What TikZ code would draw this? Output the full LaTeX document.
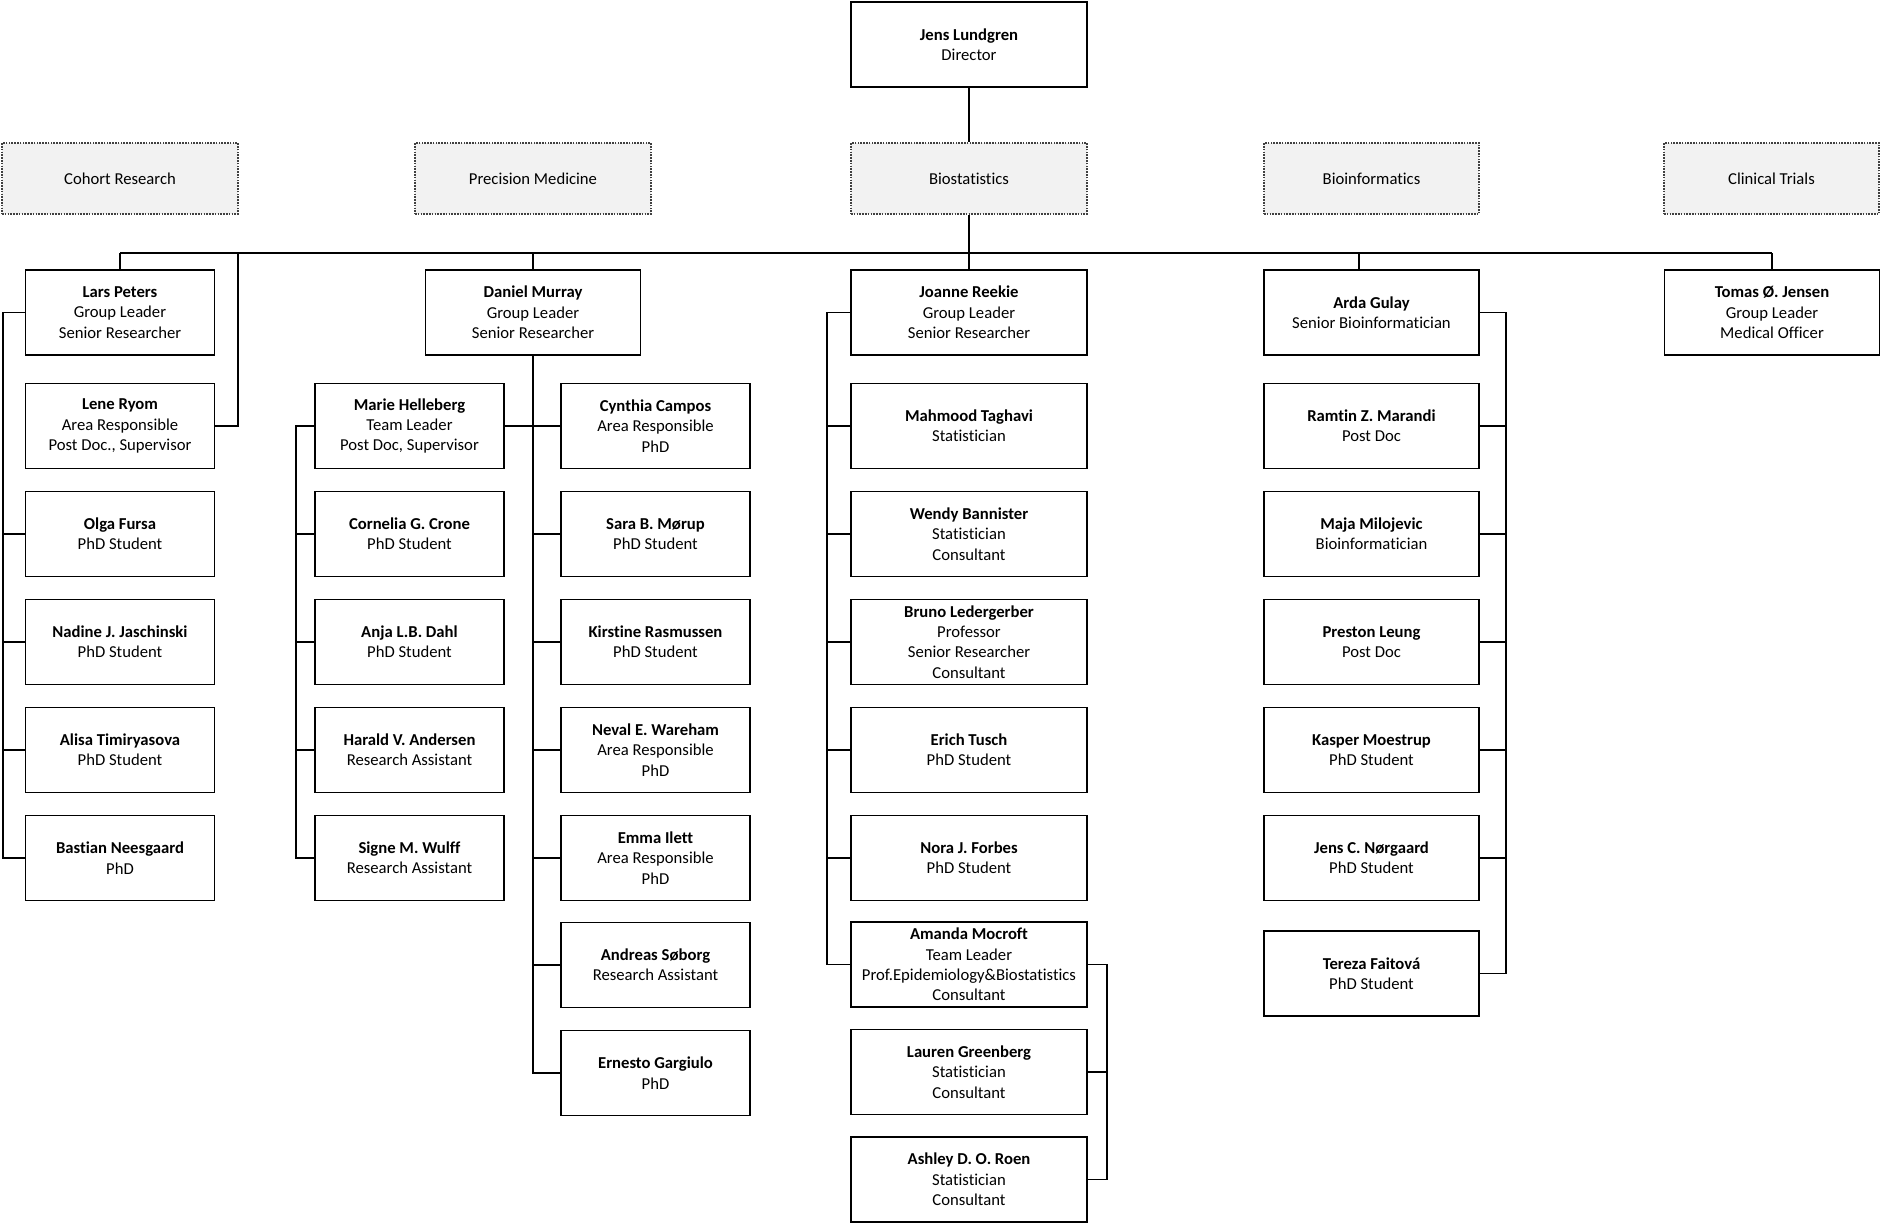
\documentclass[tikz,border=0pt]{standalone}
\usepackage{fontspec}
\setmainfont{Carlito}[Ligatures=NoCommon]
\definecolor{unitgray}{HTML}{F2F2F2}
\begin{document}
\begin{tikzpicture}[x=0.75pt,y=-0.75pt,
                every node/.style={font=\fontsize{12.5}{15.3}\selectfont},
                person/.style={draw,line width=1.15pt,align=center,inner sep=0pt,minimum height=63.75pt},
                widebox/.style={person,minimum width=177pt},
                midbox/.style={person,minimum width=161.25pt},
                smallbox/.style={person,minimum width=141.75pt},
                unitbox/.style={draw=black!75,fill=unitgray,dash pattern=on 1.2pt off 0.9pt,line width=0.8pt,inner sep=0pt,minimum height=53.25pt},
                link/.style={line width=1.15pt}]
                \useasboundingbox (0,0) rectangle (1881,1224);

                \node[widebox] (dir) at (969,44.5) { \textbf{Jens Lundgren}\\Director };

                \node[unitbox,minimum width=177pt] (cohort) at (120,178.5) { Cohort Research };
                \node[unitbox,minimum width=177pt] (precis) at (533,178.5) { Precision Medicine };
                \node[unitbox,minimum width=177pt] (biostat) at (969,178.5) { Biostatistics };
                \node[unitbox,minimum width=161.25pt] (bioinf) at (1371.5,178.5) { Bioinformatics };
                \node[unitbox,minimum width=161.25pt] (clinic) at (1771.5,178.5) { Clinical Trials };

                % Cohort Research
                \node[smallbox] (lars) at (120,312.5) { \textbf{Lars Peters}\\Group Leader\\Senior Researcher };
                \node[smallbox] (lene) at (120,426) { \textbf{Lene Ryom}\\Area Responsible\\Post Doc., Supervisor };
                \node[smallbox] (olga) at (120,534) { \textbf{Olga Fursa}\\PhD Student };
                \node[smallbox] (nadine) at (120,642) { \textbf{Nadine J. Jaschinski}\\PhD Student };
                \node[smallbox] (alisa) at (120,750) { \textbf{Alisa Timiryasova}\\PhD Student };
                \node[smallbox] (bastian) at (120,858) { \textbf{Bastian Neesgaard}\\PhD };

                % Precision Medicine
                \node[midbox] (daniel) at (533,312.5) { \textbf{Daniel Murray}\\Group Leader\\Senior Researcher };
                \node[smallbox] (marie) at (409.5,426) { \textbf{Marie Helleberg}\\Team Leader\\Post Doc, Supervisor };
                \node[smallbox] (cornelia) at (409.5,534) { \textbf{Cornelia G. Crone}\\PhD Student };
                \node[smallbox] (anja) at (409.5,642) { \textbf{Anja L.B. Dahl}\\PhD Student };
                \node[smallbox] (harald) at (409.5,750) { \textbf{Harald V. Andersen}\\Research Assistant };
                \node[smallbox] (signe) at (409.5,858) { \textbf{Signe M. Wulff}\\Research Assistant };
                \node[smallbox] (cynthia) at (655.5,426) { \textbf{Cynthia Campos}\\Area Responsible\\PhD };
                \node[smallbox] (sara) at (655.5,534) { \textbf{Sara B. Mørup}\\PhD Student };
                \node[smallbox] (kirstine) at (655.5,642) { \textbf{Kirstine Rasmussen}\\PhD Student };
                \node[smallbox] (neval) at (655.5,750) { \textbf{Neval E. Wareham}\\Area Responsible\\PhD };
                \node[smallbox] (emma) at (655.5,858) { \textbf{Emma Ilett}\\Area Responsible\\PhD };
                \node[smallbox] (andreas) at (655.5,965) { \textbf{Andreas Søborg}\\Research Assistant };
                \node[smallbox] (ernesto) at (655.5,1073) { \textbf{Ernesto Gargiulo}\\PhD };

                % Biostatistics
                \node[widebox] (joanne) at (969,312.5) { \textbf{Joanne Reekie}\\Group Leader\\Senior Researcher };
                \node[widebox] (mahmood) at (969,426) { \textbf{Mahmood Taghavi}\\Statistician };
                \node[widebox] (wendy) at (969,534) { \textbf{Wendy Bannister}\\Statistician\\Consultant };
                \node[widebox] (bruno) at (969,642) { \textbf{Bruno Ledergerber}\\Professor\\Senior Researcher\\Consultant };
                \node[widebox] (erich) at (969,750) { \textbf{Erich Tusch}\\PhD Student };
                \node[widebox] (nora) at (969,858) { \textbf{Nora J. Forbes}\\PhD Student };
                \node[widebox] (amanda) at (969,964.5) { \textbf{Amanda Mocroft}\\Team Leader\\Prof.Epidemiology\&Biostatistics\\Consultant };
                \node[widebox] (lauren) at (969,1072) { \textbf{Lauren Greenberg}\\Statistician\\Consultant };
                \node[widebox] (ashley) at (969,1179.5) { \textbf{Ashley D. O. Roen}\\Statistician\\Consultant };

                % Bioinformatics
                \node[midbox] (arda) at (1371.5,312.5) { \textbf{Arda Gulay}\\Senior Bioinformatician };
                \node[midbox] (ramtin) at (1371.5,426) { \textbf{Ramtin Z. Marandi}\\Post Doc };
                \node[midbox] (maja) at (1371.5,534) { \textbf{Maja Milojevic}\\Bioinformatician };
                \node[midbox] (preston) at (1371.5,642) { \textbf{Preston Leung}\\Post Doc };
                \node[midbox] (kasper) at (1371.5,750) { \textbf{Kasper Moestrup}\\PhD Student };
                \node[midbox] (jensc) at (1371.5,858) { \textbf{Jens C. Nørgaard}\\PhD Student };
                \node[midbox] (tereza) at (1371.5,973.5) { \textbf{Tereza Faitová}\\PhD Student };

                % Clinical Trials
                \node[midbox] (tomas) at (1772,312.5) { \textbf{Tomas Ø. Jensen}\\Group Leader\\Medical Officer };

                % bus and drops
                \coordinate (busL) at (120,253);
                \coordinate (leneTop) at (238,253);
                \coordinate (ardaTop) at ([xshift=-9.4pt]arda.north);
                \draw[link] (dir) -- (biostat);
                \draw[link] (biostat) -- (joanne);
                \draw[link] (busL) -- (tomas.north |- busL);
                \draw[link] (lars.north) -- (lars.north |- busL);
                \draw[link] (daniel.north) -- (daniel.north |- busL);
                \draw[link] (ardaTop) -- (ardaTop |- busL);
                \draw[link] (tomas.north) -- (tomas.north |- busL);
                \draw[link] (leneTop) |- (lene.east);

                % Cohort Research
                \draw[link] (lars.west) -- ++(-22,0) |- (bastian.west);
                \draw[link] (olga.west) -- ++(-22,0);
                \draw[link] (nadine.west) -- ++(-22,0);
                \draw[link] (alisa.west) -- ++(-22,0);

                % Precision Medicine
                \draw[link] (daniel.south) |- (ernesto.west);
                \draw[link] (marie.east) -- (cynthia.west);
                \draw[link] (sara.west) -- ++(-28,0);
                \draw[link] (kirstine.west) -- ++(-28,0);
                \draw[link] (neval.west) -- ++(-28,0);
                \draw[link] (emma.west) -- ++(-28,0);
                \draw[link] (andreas.west) -- ++(-28,0);
                \draw[link] (marie.west) -- ++(-18,0) |- (signe.west);
                \draw[link] (cornelia.west) -- ++(-18,0);
                \draw[link] (anja.west) -- ++(-18,0);
                \draw[link] (harald.west) -- ++(-18,0);

                % Biostatistics
                \draw[link] (joanne.west) -- ++(-23,0) |- (amanda.west);
                \draw[link] (mahmood.west) -- ++(-23,0);
                \draw[link] (wendy.west) -- ++(-23,0);
                \draw[link] (bruno.west) -- ++(-23,0);
                \draw[link] (erich.west) -- ++(-23,0);
                \draw[link] (nora.west) -- ++(-23,0);
                \draw[link] (amanda.east) -- ++(19,0) |- (ashley.east);
                \draw[link] (lauren.east) -- ++(19,0);

                % Bioinformatics
                \draw[link] (arda.east) -- ++(26,0) |- (tereza.east);
                \draw[link] (ramtin.east) -- ++(26,0);
                \draw[link] (maja.east) -- ++(26,0);
                \draw[link] (preston.east) -- ++(26,0);
                \draw[link] (kasper.east) -- ++(26,0);
                \draw[link] (jensc.east) -- ++(26,0);
            \end{tikzpicture}
\end{document}
